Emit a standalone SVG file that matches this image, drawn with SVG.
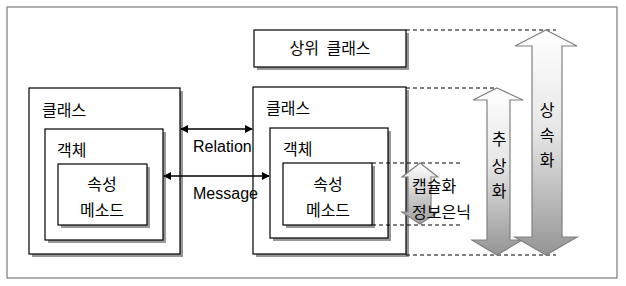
<svg xmlns="http://www.w3.org/2000/svg" width="626" height="286" viewBox="0 0 626 286">
<defs>
<style>
.box{fill:#fff;stroke:#000;stroke-width:1.2}
.sh{fill:#999}
.t{font-family:"Noto Sans CJK KR","Liberation Sans",sans-serif;font-size:16px;fill:#000}
.te{font-family:"Liberation Sans",Arial,sans-serif;font-size:16px;fill:#000}
.dash{stroke:#000;stroke-width:1;stroke-dasharray:4,3;fill:none}
.conn{stroke:#000;stroke-width:1.6;fill:none}
.big{stroke:#808080;stroke-width:1.2}
</style>
<linearGradient id="g" x1="0" y1="0" x2="0" y2="1">
<stop offset="0" stop-color="#ffffff"/>
<stop offset="0.45" stop-color="#e6e6e6"/>
<stop offset="1" stop-color="#959595"/>
</linearGradient>
<linearGradient id="g2" x1="0" y1="0" x2="0" y2="1">
<stop offset="0" stop-color="#ffffff"/>
<stop offset="1" stop-color="#a0a0a0"/>
</linearGradient>
<marker id="ah" viewBox="0 0 10 10" refX="9" refY="5" markerWidth="8" markerHeight="8" markerUnits="userSpaceOnUse" orient="auto-start-reverse">
<path d="M0,0 L10,5 L0,10 z" fill="#000"/>
</marker>
</defs>
<rect x="7" y="7" width="610" height="271" fill="#fff" stroke="#7a7a7a" stroke-width="1.2"/>

<g id="super-class">
<rect class="sh" x="257" y="33" width="152" height="37"/>
<rect class="box" x="254" y="30" width="152" height="37"/>
<text class="t" x="330" y="54" text-anchor="middle" word-spacing="4">상위 클래스</text>
</g>

<g id="left-class">
<rect class="sh" x="32" y="91" width="151" height="166"/>
<rect class="box" x="29" y="88" width="151" height="166"/>
<text class="t" x="42" y="116">클래스</text>
<g id="left-object">
<rect class="sh" x="48" y="132" width="118" height="111"/>
<rect class="box" x="45" y="129" width="118" height="111"/>
<text class="t" x="57" y="156">객체</text>
</g>
<g id="left-attr">
<rect class="sh" x="61" y="167" width="89" height="61"/>
<rect class="box" x="58" y="164" width="89" height="61"/>
<text class="t" x="102" y="190" text-anchor="middle">속성</text>
<text class="t" x="102" y="216" text-anchor="middle">메소드</text>
</g>
</g>

<g id="right-class">
<rect class="sh" x="256" y="90" width="153" height="167"/>
<rect class="box" x="253" y="87" width="153" height="167"/>
<text class="t" x="266" y="114">클래스</text>
<g id="right-object">
<rect class="sh" x="273" y="131" width="118" height="110"/>
<rect class="box" x="270" y="128" width="118" height="110"/>
<text class="t" x="283" y="155">객체</text>
</g>
<g id="right-attr">
<rect class="sh" x="286" y="166" width="89" height="62"/>
<rect class="box" x="283" y="163" width="89" height="62"/>
<text class="t" x="328" y="190" text-anchor="middle">속성</text>
<text class="t" x="328" y="216" text-anchor="middle">메소드</text>
</g>
</g>

<g id="connectors">
<line class="conn" x1="181" y1="129" x2="252" y2="129" marker-start="url(#ah)" marker-end="url(#ah)"/>
<line class="conn" x1="164" y1="176" x2="269" y2="176" marker-start="url(#ah)" marker-end="url(#ah)"/>
<text class="te" x="193" y="152">Relation</text>
<text class="te" x="193" y="199">Message</text>
<line class="dash" x1="406" y1="30" x2="556" y2="30"/>
<line class="dash" x1="406" y1="88" x2="497" y2="88"/>
<line class="dash" x1="406" y1="255" x2="556" y2="255"/>
<line class="dash" x1="372" y1="163" x2="460" y2="163"/>
<line class="dash" x1="372" y1="225" x2="460" y2="225"/>
</g>

<g id="encapsulation">
<path class="big" fill="url(#g2)" d="M420,163 L438,177 L431,177 L431,212 L438,212 L420,224 L402,212 L408,212 L408,177 L402,177 Z"/>
<text class="t" x="412" y="192">캡슐화</text>
<text class="t" x="412" y="218">정보은닉</text>
</g>

<g id="abstraction">
<path class="big" fill="url(#g)" d="M497,88 L523,100 L510,100 L510,240 L522,240 L497,255 L472,240 L487,240 L487,100 L473,100 Z"/>
<text class="t" x="499" y="145" text-anchor="middle">추</text>
<text class="t" x="499" y="172" text-anchor="middle">상</text>
<text class="t" x="499" y="197" text-anchor="middle">화</text>
</g>

<g id="inheritance">
<path class="big" fill="url(#g)" d="M546,30 L577,46 L562,46 L562,237 L577,237 L546,255 L515,237 L532,237 L532,46 L515,46 Z"/>
<text class="t" x="547" y="116" text-anchor="middle">상</text>
<text class="t" x="547" y="141" text-anchor="middle">속</text>
<text class="t" x="547" y="166" text-anchor="middle">화</text>
</g>
</svg>
